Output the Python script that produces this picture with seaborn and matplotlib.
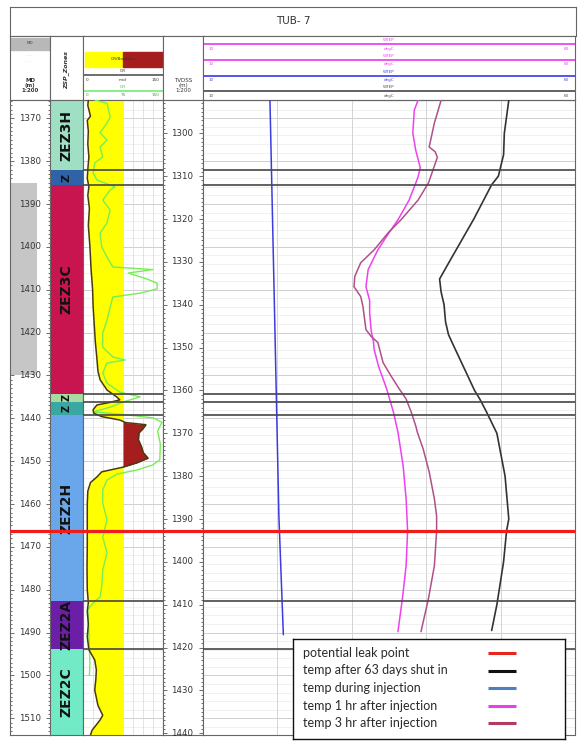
import numpy as np
import pandas as pd
import matplotlib
matplotlib.use("Agg")
import matplotlib.pyplot as plt
import seaborn as sns
from matplotlib.patches import Rectangle

# ---------------- data ----------------
well_name = "TUB- 7"
md_top, md_bottom = 1365.73, 1513.9
tvd_offset = 73.5          # MD - TVDSS
leak_md = 1466.4

md_ticks = list(range(1370, 1511, 10))
tvd_ticks = list(range(1300, 1441, 10))

zone_names = ["ZEZ3H", "Z", "ZEZ3C", "Z", "Z", "ZEZ2H", "ZEZ2A", "ZEZ2C"]
zone_tops = [1365.73, 1382.1, 1385.6, 1434.3, 1436.2, 1439.3, 1482.7, 1493.9]
zone_bases = [1382.1, 1385.6, 1434.3, 1436.2, 1439.3, 1482.7, 1493.9, 1513.9]
zone_colors = ["#9fe0c4", "#2f62a6", "#c8154f", "#a6dca0", "#3aa7a2", "#6aa6ea", "#6a1fa6", "#72eac6"]
zone_fs = [10, 8, 10, 7, 7, 10, 10, 10]
casing_top, casing_base = 1385.1, 1430.0

gr_md = [1365.7, 1367, 1369.5, 1370.5, 1373, 1376, 1379, 1382, 1384, 1386, 1388, 1391, 1395,
         1400, 1405, 1410, 1414, 1418, 1422, 1426, 1429, 1431, 1433.4, 1435, 1435.7, 1436.3,
         1436.9, 1438, 1438.8, 1439.6, 1440.4, 1441, 1441.5, 1442.5, 1443.4, 1445, 1446.7,
         1448, 1449.3, 1450.4, 1451.4, 1452.5, 1453.7, 1455, 1457, 1460, 1465, 1470, 1475,
         1480, 1483, 1485, 1488, 1491, 1494, 1496.4, 1498.7, 1501, 1503.4, 1507, 1509.3,
         1510.4, 1512.8, 1513.9]
gr_val = [10, 9, 14, 8, 10, 9, 11, 9, 8, 11, 9, 12, 10,
          13, 15, 18, 19, 21, 23, 26, 28, 32, 45, 63, 69, 50,
          26, 19, 20, 35, 69, 80, 118, 112, 105, 104, 110,
          113, 122, 101, 75, 35, 26, 14, 9, 8, 8, 8, 7.5,
          8, 10, 8, 10, 8, 11, 22, 25, 24, 22, 28, 37,
          32, 17, 14]
gr_cutoff = 75

gr2_md = [1365.7, 1366.5, 1369.7, 1371.1, 1373.4, 1375.1, 1376.7, 1379, 1380.4, 1382.8, 1384.4,
          1386, 1386.7, 1389.1, 1391.4, 1394.4, 1396.8, 1400, 1402.4, 1404.7, 1405.3, 1406.1,
          1407.5, 1408.5, 1409.8, 1410.8, 1411.7, 1414, 1417.1, 1420.1, 1423.4, 1425.7, 1426.4,
          1427.1, 1429.4, 1431.8, 1433.9, 1435, 1436.2, 1437.4, 1438.5, 1439.2, 1439.9, 1440.9,
          1443, 1446, 1449.7, 1450.9, 1452.1, 1453, 1454.4, 1456.7, 1459.8, 1463.7, 1467.7,
          1471.4, 1475.4, 1479.4, 1481.7, 1483.1, 1484.7, 1490, 1494, 1497, 1500]
gr2_val = [22, 45, 51, 45, 32, 45, 32, 37, 22, 19, 26,
           60, 51, 37, 51, 45, 32, 35, 45, 56, 131, 85,
           120, 139, 139, 107, 56, 51, 45, 37, 37, 56, 79,
           45, 37, 45, 69, 107, 75, 51, 19, 82, 131, 148,
           140, 145, 144, 131, 100, 64, 45, 37, 37, 45, 37,
           45, 37, 35, 32, 19, 9, 11, 12, 13, 12]

shut_tvd = [1292.3, 1300, 1305, 1310, 1312, 1320, 1330, 1334, 1337, 1340, 1344, 1347, 1350,
            1360, 1362, 1365, 1370, 1380, 1390, 1392.8, 1400, 1410, 1416]
shut_temp = [51.1, 50.5, 50.4, 49.7, 48.8, 46.4, 43.1, 41.8, 42.0, 42.4, 42.6, 43.0, 43.8,
             46.5, 47.2, 48.1, 49.5, 50.6, 51.1, 50.8, 50.4, 49.5, 48.8]

inj_tvd = [1292.3, 1340.4, 1389.3, 1417]
inj_temp = [19.0, 19.6, 20.2, 20.8]

h1_tvd = [1292.3, 1294.6, 1300, 1304, 1308, 1310.2, 1312.5, 1315.6, 1320.2, 1323.2, 1327.2,
          1331.8, 1335.8, 1339, 1342, 1346, 1348.5, 1350.4, 1354.4, 1359.7, 1365.1, 1369.7,
          1377.6, 1385.3, 1392.8, 1400.9, 1408.6, 1416.3]
h1_temp = [38.9, 38.4, 38.2, 38.6, 39.2, 38.9, 38.4, 37.7, 36.2, 35.0, 33.5,
           32.2, 31.9, 32.4, 32.4, 32.6, 32.9, 33.0, 33.6, 34.7, 35.6, 36.2,
           36.9, 37.3, 37.5, 37.3, 36.8, 36.2]

h3_tvd = [1292.3, 1297.6, 1303.2, 1304.3, 1305.6, 1308.6, 1311.6, 1315.6, 1320.2, 1323.2, 1327.2,
          1330.2, 1333.4, 1335.8, 1338.1, 1340.4, 1345.8, 1347.4, 1348.8, 1353.5, 1356.7,
          1359.7, 1362, 1365.1, 1368.3, 1369.7, 1373.7, 1379, 1385.3, 1389.3, 1392.8, 1400.9,
          1408.6, 1416.3]
h3_temp = [42.0, 41.1, 40.4, 41.2, 41.5, 40.9, 40.3, 38.9, 36.6, 34.9, 33.0,
           31.2, 30.4, 30.3, 31.2, 31.5, 31.9, 32.6, 33.5, 34.2, 35.3,
           36.4, 37.3, 38.0, 38.6, 38.8, 39.6, 40.4, 41.1, 41.4, 41.4, 41.1,
           40.3, 39.3]

temp_min, temp_max = 10, 60

legend_labels = ["potential leak point", "temp after 63 days shut in", "temp during injection",
                 "temp 1 hr after injection", "temp 3 hr after injection"]
legend_colors = ["#e8251f", "#111111", "#4f7fbf", "#e640e6", "#b53a60"]

# ---------------- style ----------------
sns.set_theme(style="white")
plt.rcParams["font.family"] = ["DejaVu Sans"]

W, H = 580, 751
fig = plt.figure(figsize=(W / 100, H / 100), dpi=100)
fig.patch.set_facecolor("white")


def box(x0, y0, x1, y1):
    return [x0 / W, 1 - y1 / H, (x1 - x0) / W, (y1 - y0) / H]


SP = "#666666"


def frame(ax, lw=0.8):
    for s in ax.spines.values():
        s.set_visible(True)
        s.set_color(SP)
        s.set_linewidth(lw)
    ax.set_xticks([])
    ax.set_yticks([])


# ---------------- header ----------------
ax_title = fig.add_axes(box(10, 7, 576, 36))
frame(ax_title)
ax_title.text(0.5, 0.5, well_name, ha="center", va="center", fontsize=7.5, color="#333333",
              transform=ax_title.transAxes)


def header(x0, x1):
    a = fig.add_axes(box(x0, 36, x1, 100))
    frame(a)
    a.set_xlim(0, 1)
    a.set_ylim(100, 36)
    return a


h_md = header(10, 50)
h_md.add_patch(Rectangle((0.02, 37.5), 0.96, 12, color="#b8b8b8"))
h_md.text(0.5, 43.5, "MD", ha="center", va="center", fontsize=3, color="#444")
h_md.text(0.5, 55, "-----", ha="center", va="center", fontsize=3, color="#cccccc")
h_md.text(0.5, 61, "- - - -", ha="center", va="center", fontsize=3, color="#cccccc")
h_md.text(0.5, 85, "MD\n(m)\n1:200", ha="center", va="center", fontsize=4, color="#333",
          fontweight="bold", linespacing=1.0)

h_zone = header(50, 83)
h_zone.text(0.5, 70, "ZSP_Zones", ha="center", va="center", rotation=90, fontsize=4.5,
            fontweight="bold", fontstyle="italic", color="#333")

h_gr = header(83, 163)
h_gr.add_patch(Rectangle((0.02, 52), 0.48, 15, color="#ffff00"))
h_gr.add_patch(Rectangle((0.5, 52), 0.5, 15, color="#a51d1d"))
h_gr.text(0.5, 59.5, "GR/Baseline", ha="center", va="center", fontsize=3, color="#333")
h_gr.text(0.5, 71.5, "GR", ha="center", va="center", fontsize=3, color="#333")
h_gr.axhline(75, color="#555", lw=1.2)
for xx, t, ha in [(0.04, "0", "left"), (0.5, "mid", "center"), (0.96, "150", "right")]:
    h_gr.text(xx, 80, t, ha=ha, va="center", fontsize=3, color="#333")
h_gr.text(0.5, 87, "GR", ha="center", va="center", fontsize=3, color="#33cc33")
h_gr.axhline(91, color="#7fee7f", lw=1.3)
for xx, t, ha in [(0.04, "0", "left"), (0.5, "75", "center"), (0.96, "150", "right")]:
    h_gr.text(xx, 95.5, t, ha=ha, va="center", fontsize=3, color="#33aa33")

h_tvd = header(163, 203)
h_tvd.text(0.5, 85, "TVDSS\n(m)\n1:200", ha="center", va="center", fontsize=4, color="#333",
           linespacing=1.0)

h_t = header(203, 575)
hdr_rows = [(40, 44.3, 49, "#ee44ee"), (55.7, 60, 64.3, "#ee44ee"),
            (71.7, 75.7, 80, "#4646ee"), (87.3, 91, 95.7, "#555555")]
for ly, liney, sy, c in hdr_rows:
    h_t.text(0.5, ly, "WTEP", ha="center", va="center", fontsize=3, color=c)
    h_t.axhline(liney, color=c, lw=1.3)
    h_t.text(0.015, sy, str(temp_min), ha="left", va="center", fontsize=3, color=c)
    h_t.text(0.5, sy, "degC", ha="center", va="center", fontsize=3, color=c)
    h_t.text(0.985, sy, str(temp_max), ha="right", va="center", fontsize=3, color=c)

# ---------------- tracks ----------------
ax_md = fig.add_axes(box(10, 100, 50, 735))
ax_zone = fig.add_axes(box(50, 100, 83, 735))
ax_gr = fig.add_axes(box(83, 100, 163, 735))
ax_tvd = fig.add_axes(box(163, 100, 203, 735))
ax_t = fig.add_axes(box(203, 100, 575, 735))

for a in [ax_md, ax_zone, ax_gr, ax_tvd, ax_t]:
    frame(a)
    a.set_ylim(md_bottom, md_top)
    a.set_facecolor("white")

# MD column
ax_md.set_xlim(0, 1)
ax_md.axhspan(casing_top, casing_base, xmin=0, xmax=0.675, color="#c6c6c6", lw=0)
ax_md.set_yticks(md_ticks)
ax_md.set_yticks(np.arange(1366, 1514, 1), minor=True)
ax_md.tick_params(axis="y", which="both", direction="in", left=True, right=True,
                  labelleft=False, color="#555", width=0.6)
ax_md.tick_params(axis="y", which="major", length=3)
ax_md.tick_params(axis="y", which="minor", length=1.3)
for v in md_ticks:
    ax_md.text(0.5, v, str(v), transform=ax_md.get_yaxis_transform(), ha="center",
               va="center", fontsize=6.2, color="#333")

# Zone column
ax_zone.set_xlim(0, 1)
for name, t, b, c, fs in zip(zone_names, zone_tops, zone_bases, zone_colors, zone_fs):
    ax_zone.axhspan(t, b, color=c, lw=0)
    ax_zone.text(0.5, (t + b) / 2, name, transform=ax_zone.get_yaxis_transform(), rotation=90,
                 ha="center", va="center", fontsize=fs, fontweight="bold", color="#111")

# grid helpers
def depth_grid(a):
    for v in np.arange(1366, 1514, 2):
        a.axhline(v, color="#ececec", lw=0.5, zorder=0)
    for v in md_ticks:
        a.axhline(v, color="#cfcfcf", lw=0.7, zorder=0)


# GR track
ax_gr.set_xlim(0, 150)
depth_grid(ax_gr)
for v in np.linspace(0, 150, 9)[1:-1]:
    ax_gr.axvline(v, color="#d8d8d8", lw=0.5, zorder=0)
gr_df = pd.DataFrame({"md": gr_md, "gr": gr_val})
g = np.array(gr_val, dtype=float)
m = np.array(gr_md, dtype=float)
ax_gr.fill_betweenx(m, g, gr_cutoff, where=g <= gr_cutoff, interpolate=True,
                    color="#ffff00", lw=0, zorder=1)
ax_gr.fill_betweenx(m, gr_cutoff, g, where=g >= gr_cutoff, interpolate=True,
                    color="#a51d1d", lw=0, zorder=1)
gr2_df = pd.DataFrame({"md": gr2_md, "gr": gr2_val})
sns.lineplot(data=gr2_df, x="gr", y="md", sort=False, estimator=None, ax=ax_gr,
             color="#77ee55", lw=1.0, zorder=3)
sns.lineplot(data=gr_df, x="gr", y="md", sort=False, estimator=None, ax=ax_gr,
             color="#4a3a12", lw=1.1, zorder=4)

# TVDSS column
ax_tvd.set_xlim(0, 1)
ax_tvd.set_yticks([t + tvd_offset for t in tvd_ticks])
ax_tvd.set_yticks(np.arange(1293, 1441, 1) + tvd_offset, minor=True)
ax_tvd.tick_params(axis="y", which="both", direction="in", left=True, right=True,
                   labelleft=False, color="#555", width=0.6)
ax_tvd.tick_params(axis="y", which="major", length=3)
ax_tvd.tick_params(axis="y", which="minor", length=1.3)
for t in tvd_ticks:
    ax_tvd.text(0.48, t + tvd_offset, str(t), transform=ax_tvd.get_yaxis_transform(),
                ha="center", va="center", fontsize=6.2, color="#333")

# Temperature track
ax_t.set_xlim(temp_min, temp_max)
depth_grid(ax_t)
for v in range(temp_min + 10, temp_max, 10):
    ax_t.axvline(v, color="#d4d4d4", lw=0.7, zorder=0)

curves = [
    (inj_tvd, inj_temp, "#3c3cde", 1.1),
    (shut_tvd, shut_temp, "#333333", 1.2),
    (h1_tvd, h1_temp, "#f040f0", 1.1),
    (h3_tvd, h3_temp, "#b0508a", 1.1),
]
for tv, tp, c, lw in curves:
    df = pd.DataFrame({"md": np.array(tv) + tvd_offset, "temp": tp})
    sns.lineplot(data=df, x="temp", y="md", sort=False, estimator=None, ax=ax_t,
                 color=c, lw=lw, zorder=3)

# zone boundary lines
bounds = zone_tops[1:]
for a in [ax_gr, ax_t]:
    for b in bounds:
        a.axhline(b, color="#474747", lw=1.2, zorder=5)
    a.set_xlabel("")
    a.set_ylabel("")

# leak point line through every track
for a in [ax_md, ax_zone, ax_gr, ax_tvd, ax_t]:
    a.axhline(leak_md, color="#ee1c1c", lw=2.3, zorder=6)
    a.set_xticks([])
    a.set_xlabel("")
    a.set_ylabel("")

# ---------------- legend ----------------
ax_leg = fig.add_axes(box(293, 639, 565, 739))
ax_leg.set_xlim(293, 565)
ax_leg.set_ylim(739, 639)
ax_leg.set_xticks([])
ax_leg.set_yticks([])
ax_leg.set_facecolor("white")
for s in ax_leg.spines.values():
    s.set_color("#111")
    s.set_linewidth(1.0)
for i, (lab, c) in enumerate(zip(legend_labels, legend_colors)):
    yy = 653 + i * 17.5
    ax_leg.text(303, yy, lab, ha="left", va="center", fontsize=9, color="#2a2a2a",
                family=["Lato", "DejaVu Sans"])
    ax_leg.plot([488, 516], [yy, yy], color=c, lw=2.2, solid_capstyle="butt")

fig.savefig("out.png", dpi=100, facecolor="white")
